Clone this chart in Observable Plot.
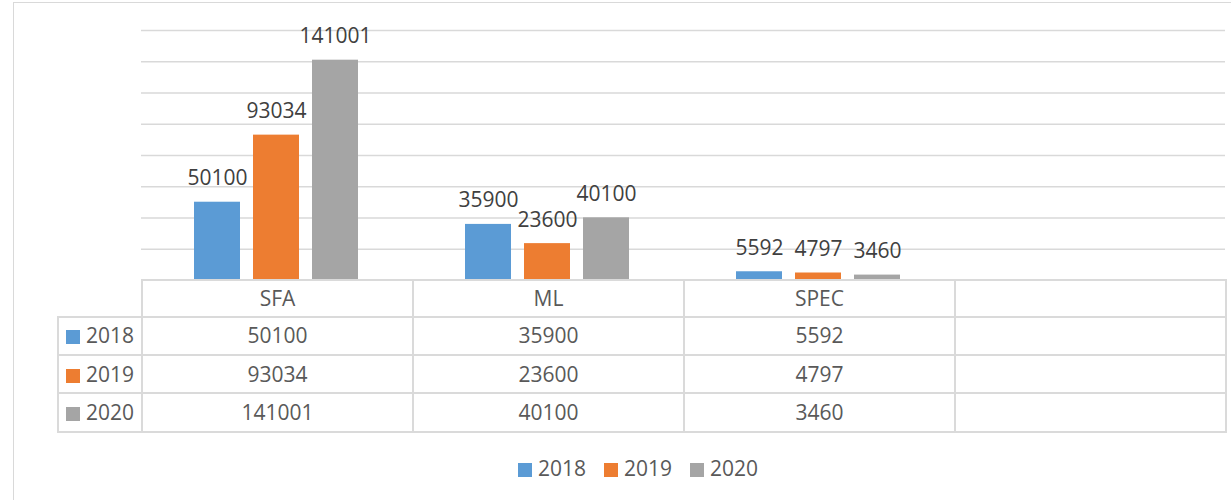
<!DOCTYPE html>
<html>
<head>
<meta charset="utf-8">
<script src="https://cdn.jsdelivr.net/npm/d3@7"></script>
<script src="https://cdn.jsdelivr.net/npm/@observablehq/plot@0.6"></script>
<style>
  html, body { margin: 0; padding: 0; background: #fff; }
  #wrap { position: relative; width: 1231px; height: 500px; overflow: hidden;
          font-family: "Open Sans", sans-serif; color: #595959; }
  #frame { position: absolute; left: 13px; top: 2px; width: 1240px; height: 520px;
           border-top: 1.5px solid #d9d9d9; border-left: 1.5px solid #d9d9d9; box-sizing: border-box; }
  #chart { position: absolute; left: 0; top: 0; }
  table { position: absolute; left: 57px; top: 279px; border-collapse: collapse; table-layout: fixed;
          font-size: 21px; color: #595959; }
  td { border: 2px solid #dadada; text-align: center; height: 36.3px; padding: 0; line-height: 1; }
  tr.head td { height: 34.7px; }
  td.lab { text-align: left; padding-left: 7px; }
  td.blank { border-top: none; border-left: none; }
  .sw { display: inline-block; width: 14px; height: 14px; margin-right: 6px; vertical-align: -1px; }
  #legend { position: absolute; left: 518px; top: 454px; font-size: 21px; color: #595959; white-space: nowrap; }
  #legend span.item { margin-right: 18px; }
</style>
</head>
<body>
<div id="wrap">
  <div id="frame"></div>
  <div id="chart"></div>
  <div id="table"></div>
  <div id="legend"></div>
</div>
<script>
const categories = ["SFA", "ML", "SPEC", ""];
const years = ["2018", "2019", "2020"];
const colors = ["#5b9bd5", "#ed7d31", "#a5a5a5"];
const values2018 = [50100, 35900, 5592];
const values2019 = [93034, 23600, 4797];
const values2020 = [141001, 40100, 3460];
const yTicks = [20000, 40000, 60000, 80000, 100000, 120000, 140000, 160000];

const series = [values2018, values2019, values2020];
const catKey = c => c === "" ? "\u200b" : c;
const data = [];
years.forEach((yr, i) => {
  series[i].forEach((v, j) => data.push({year: yr, cat: catKey(categories[j]), value: v}));
});
const grid = [];
categories.forEach(c => yTicks.forEach(t => grid.push({cat: catKey(c), y: t})));

const plot = Plot.plot({
  width: 1231,
  height: 280,
  marginLeft: 141,
  marginRight: 6,
  marginTop: 30,
  marginBottom: 0,
  style: {fontFamily: "Open Sans, sans-serif", fontSize: "21px", color: "#595959", background: "transparent"},
  fx: {domain: categories.map(catKey), padding: 0, axis: null},
  x: {domain: years, paddingInner: 0.2167, paddingOuter: 0.867, axis: null},
  y: {domain: [0, 160000], axis: null},
  color: {domain: years, range: colors},
  marks: [
    Plot.ruleY(grid, {fx: "cat", y: "y", stroke: "#d9d9d9", strokeWidth: 1.5, strokeOpacity: 1}),
    Plot.barY(data, {fx: "cat", x: "year", y: "value", fill: "year"}),
    Plot.text(data, {fx: "cat", x: "year", y: "value", text: d => String(d.value),
      dy: -17, lineAnchor: "bottom", fill: "#404040", fontSize: 21})
  ]
});
document.getElementById("chart").appendChild(plot);

// Data table
const colW = [84, 271, 271, 271, 271];
let html = '<table><colgroup>' + colW.map(w => `<col style="width:${w}px">`).join("") + '</colgroup>';
html += '<tr class="head"><td class="blank"></td>' + categories.map(c => `<td>${c}</td>`).join("") + '</tr>';
years.forEach((yr, i) => {
  html += `<tr><td class="lab"><span class="sw" style="background:${colors[i]}"></span>${yr}</td>` +
    categories.map((c, j) => `<td>${series[i][j] !== undefined ? series[i][j] : ""}</td>`).join("") + '</tr>';
});
html += '</table>';
document.getElementById("table").innerHTML = html;

// Legend
document.getElementById("legend").innerHTML = years.map((yr, i) =>
  `<span class="item"><span class="sw" style="background:${colors[i]}"></span>${yr}</span>`).join("");
</script>
</body>
</html>
